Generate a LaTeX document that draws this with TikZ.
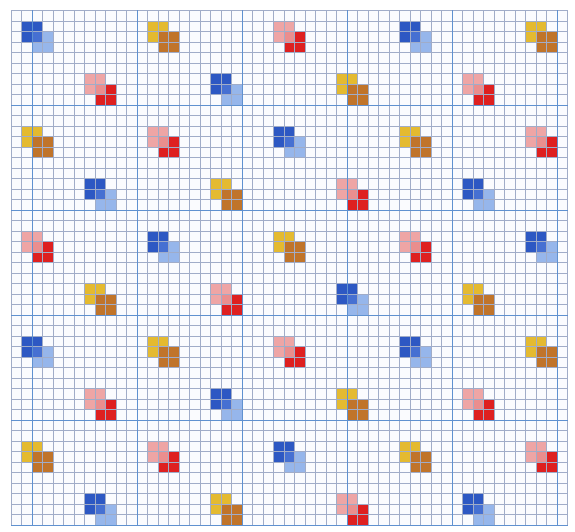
\documentclass[tikz,border=0pt]{standalone}
\usepackage{tikz}
\definecolor{paper}{RGB}{250,251,254}
\definecolor{minorc}{RGB}{160,172,200}
\definecolor{majorc}{RGB}{95,145,208}
\definecolor{bdark}{RGB}{45,88,195}
\definecolor{blight}{RGB}{150,182,235}
\definecolor{bover}{RGB}{70,112,210}
\definecolor{yel}{RGB}{228,186,48}
\definecolor{brn}{RGB}{192,116,42}
\definecolor{pnk}{RGB}{238,165,165}
\definecolor{rd}{RGB}{222,32,32}
\definecolor{pover}{RGB}{234,142,142}
\tikzset{
  minorline/.style={draw=minorc,line width=0.5pt},
  majorline/.style={draw=majorc,line width=0.95pt},
}
\newcommand\motifB[2]{%
  \fill[blight] (#1+1,#2+1) rectangle (#1+3,#2+3);
  \fill[bdark] (#1,#2) rectangle (#1+2,#2+2);
  \fill[bover] (#1+1,#2+1) rectangle (#1+2,#2+2);}
\newcommand\motifY[2]{%
  \fill[yel] (#1,#2) rectangle (#1+2,#2+2);
  \fill[brn] (#1+1,#2+1) rectangle (#1+3,#2+3);}
\newcommand\motifP[2]{%
  \fill[rd] (#1+1,#2+1) rectangle (#1+3,#2+3);
  \fill[pnk] (#1,#2) rectangle (#1+2,#2+2);
  \fill[pover] (#1+1,#2+1) rectangle (#1+2,#2+2);}
\begin{document}
\begin{tikzpicture}
\useasboundingbox (0pt,0pt) rectangle (575pt,532pt);
\fill[white] (0pt,0pt) rectangle (575pt,532pt);
\begin{scope}[shift={(11pt,521.5pt)},x=10.5pt,y=-10.5pt]
  \fill[paper] (0,0) rectangle (53,49);
  \foreach \i in {0,...,9}{
    \pgfmathtruncatemacro\parity{mod(\i,2)}
    \ifnum\parity=0 \def\nn{4}\def\off{1}\else\def\nn{3}\def\off{7}\fi
    \foreach \j in {0,...,\nn}{
      \pgfmathtruncatemacro\cc{\off+12*\j}
      \pgfmathtruncatemacro\rr{1+5*\i}
      \pgfmathtruncatemacro\kk{mod(\j-\i+30,3)}
      \ifcase\kk \motifB{\cc}{\rr}\or \motifY{\cc}{\rr}\or \motifP{\cc}{\rr}\fi
    }
  }
  \foreach \c in {0,...,53} \draw[minorline] (\c,0) -- (\c,49);
  \foreach \r in {0,...,49} \draw[minorline] (0,\r) -- (53,\r);
  \foreach \c in {2,12,22,32,42,52} \draw[majorline] (\c,0) -- (\c,49);
  \foreach \r in {9,19,29,39,49} \draw[majorline] (0,\r) -- (53,\r);
\end{scope}
\end{tikzpicture}
\end{document}
